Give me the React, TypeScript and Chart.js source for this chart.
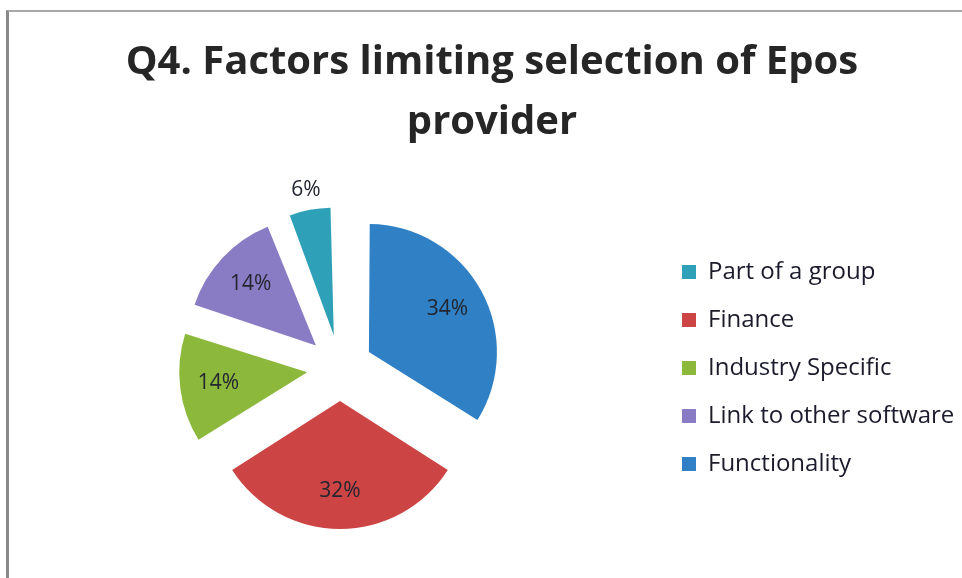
import React, { useEffect, useRef } from 'react';
import { Chart, registerables } from 'chart.js';

Chart.register(...registerables);

// ---- data ----
const labels = ['Functionality', 'Finance', 'Industry Specific', 'Link to other software', 'Part of a group'];
const values = [34, 32, 14, 14, 6];
const sliceColors = ['#2f80c4', '#cc4444', '#8cb83c', '#8a7cc4', '#2ea0b8'];
const legendOrder = ['Part of a group', 'Finance', 'Industry Specific', 'Link to other software', 'Functionality'];
const titleLines = ['Q4. Factors limiting selection of Epos', 'provider'];

// ---- style constants ----
const EXPLODE = 33; // px distance each slice is pulled out
const OFFSET_DIVISOR = 4; // Chart.js 4 arcs translate by offset / 4
const FONT = "'Open Sans', sans-serif";

const radiusFix = {
  id: 'radiusFix',
  afterDatasetsUpdate(chart: any) {
    const meta = chart.getDatasetMeta(0);
    meta.data.forEach((arc: any) => {
      const fix = 1 - Math.sin(Math.min(Math.PI, arc.circumference || 0));
      arc.outerRadius = arc.outerRadius - EXPLODE * fix;
    });
  },
};

const pctLabels = {
  id: 'pctLabels',
  afterDatasetsDraw(chart: any) {
    const meta = chart.getDatasetMeta(0);
    const r = meta.controller.outerRadius;
    const total = values.reduce((a, b) => a + b, 0);
    const ctx = chart.ctx;
    ctx.save();
    ctx.font = `21px ${FONT}`;
    ctx.fillStyle = '#232630';
    ctx.textAlign = 'center';
    ctx.textBaseline = 'middle';
    meta.data.forEach((arc: any, i: number) => {
      const mid = (arc.startAngle + arc.endAngle) / 2;
      const share = values[i] / total;
      const d = EXPLODE + (share >= 0.1 ? 0.7 : 1.16) * r;
      ctx.fillText(Math.round(share * 100) + '%', arc.x + Math.cos(mid) * d, arc.y + Math.sin(mid) * d);
    });
    ctx.restore();
  },
};

export default function App() {
  const ref = useRef<HTMLCanvasElement | null>(null);

  useEffect(() => {
    if (!ref.current) return;
    const chart = new Chart(ref.current, {
      type: 'pie',
      data: {
        labels,
        datasets: [
          {
            data: values,
            backgroundColor: sliceColors,
            borderWidth: 0,
            offset: EXPLODE * OFFSET_DIVISOR,
            hoverOffset: 0,
          },
        ],
      },
      options: {
        responsive: false,
        animation: false,
        events: [],
        layout: { padding: { left: 22, right: 0, top: 0, bottom: 16 } },
        plugins: {
          title: {
            display: true,
            text: titleLines,
            color: '#262626',
            font: { family: FONT, size: 40, weight: 'bold', lineHeight: 1.5 },
            padding: { top: 33, bottom: 21 },
          },
          legend: {
            position: 'right',
            fullSize: false,
            maxWidth: 304,
            labels: {
              boxWidth: 14,
              boxHeight: 14,
              padding: 24,
              color: '#1b1b2b',
              font: { family: FONT, size: 24 },
              sort: (a: any, b: any) => legendOrder.indexOf(a.text) - legendOrder.indexOf(b.text),
            },
          },
          tooltip: { enabled: false },
        },
      },
      plugins: [radiusFix, pctLabels],
    });
    return () => chart.destroy();
  }, []);

  return (
    <div style={{ position: 'absolute', left: 0, top: 0, width: 962, height: 578, background: '#fff' }}>
      <div
        style={{
          position: 'absolute',
          left: 6,
          top: 10,
          width: 956,
          height: 568,
          borderTop: '2px solid #a8a8a8',
          borderLeft: '3px solid #8a8a8a',
          boxSizing: 'border-box',
        }}
      />
      <canvas ref={ref} width={962} height={578} style={{ position: 'absolute', left: 0, top: 0 }} />
    </div>
  );
}
